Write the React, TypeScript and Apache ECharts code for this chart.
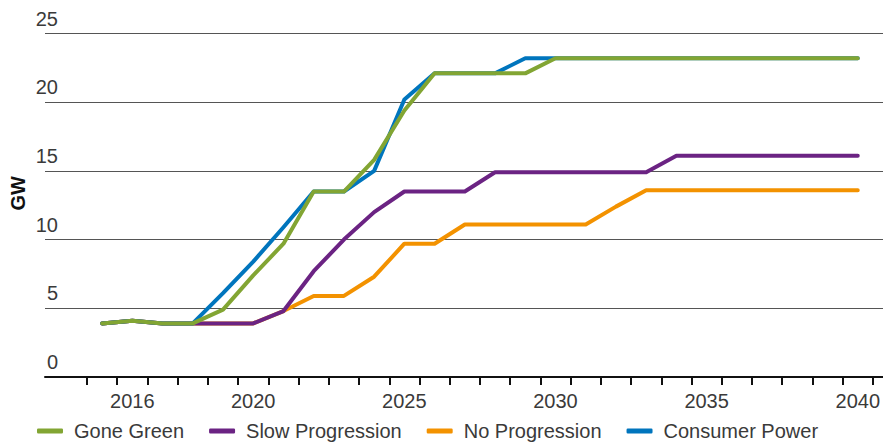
import { useEffect, useRef } from 'react';
import * as echarts from 'echarts';

const years = [
  '2015', '2016', '2017', '2018', '2019', '2020', '2021', '2022', '2023', '2024',
  '2025', '2026', '2027', '2028', '2029', '2030', '2031', '2032', '2033', '2034',
  '2035', '2036', '2037', '2038', '2039', '2040',
];
const xLabelYears = ['2016', '2020', '2025', '2030', '2035', '2040'];

const goneGreen = [
  3.9, 4.1, 3.9, 3.9, 4.9, 7.4, 9.7, 13.5, 13.5, 15.8,
  19.4, 22.1, 22.1, 22.1, 22.1, 23.2, 23.2, 23.2, 23.2, 23.2,
  23.2, 23.2, 23.2, 23.2, 23.2, 23.2,
];
const slowProgression = [
  3.9, 4.1, 3.9, 3.9, 3.9, 3.9, 4.8, 7.7, 10.0, 12.0,
  13.5, 13.5, 13.5, 14.9, 14.9, 14.9, 14.9, 14.9, 14.9, 16.1,
  16.1, 16.1, 16.1, 16.1, 16.1, 16.1,
];
const noProgression = [
  3.9, 4.1, 3.9, 3.9, 3.9, 3.9, 4.8, 5.9, 5.9, 7.3,
  9.7, 9.7, 11.1, 11.1, 11.1, 11.1, 11.1, 12.4, 13.6, 13.6,
  13.6, 13.6, 13.6, 13.6, 13.6, 13.6,
];
const consumerPower = [
  3.9, 4.1, 3.9, 3.9, 6.1, 8.4, 10.9, 13.5, 13.5, 15.0,
  20.2, 22.1, 22.1, 22.1, 23.2, 23.2, 23.2, 23.2, 23.2, 23.2,
  23.2, 23.2, 23.2, 23.2, 23.2, 23.2,
];

const seriesNames = ['Gone Green', 'Slow Progression', 'No Progression', 'Consumer Power'];
const colors: Record<string, string> = {
  'Gone Green': '#82a533',
  'Slow Progression': '#6b2383',
  'No Progression': '#f39200',
  'Consumer Power': '#0075bd',
};

const FONT = '"Liberation Sans", Arial, Helvetica, sans-serif';
const TEXT = '#3a3a3a';

export default function App() {
  const ref = useRef<HTMLDivElement>(null);
  useEffect(() => {
    const chart = echarts.init(ref.current!, null, { renderer: 'svg' });
    const mk = (name: string, data: number[]) => ({
      name,
      type: 'line',
      xAxisIndex: 1,
      yAxisIndex: 1,
      data,
      symbol: 'none',
      showSymbol: false,
      itemStyle: { color: colors[name] },
      lineStyle: { color: colors[name], width: 4, cap: 'round', join: 'round' },
    });
    chart.setOption({
      animation: false,
      textStyle: { fontFamily: FONT },
      grid: [
        { left: 35, right: 0, top: 33.5, bottom: 66 },
        { left: 87, right: 10, top: 33.5, bottom: 66 },
      ],
      xAxis: [
        {
          type: 'value',
          gridIndex: 0,
          min: 0,
          max: 1,
          axisLine: { show: true, onZero: false, lineStyle: { color: '#111', width: 2 } },
          axisTick: { show: false },
          axisLabel: { show: false },
          splitLine: { show: false },
        },
        {
          type: 'category',
          gridIndex: 1,
          data: years,
          boundaryGap: true,
          axisLine: { show: false },
          axisTick: {
            show: true,
            interval: 0,
            length: 8,
            lineStyle: { color: '#111', width: 2 },
          },
          axisLabel: {
            interval: (_i: number, v: string) => xLabelYears.includes(v),
            margin: 14,
            fontSize: 20,
            color: TEXT,
            fontFamily: FONT,
          },
          splitLine: { show: false },
        },
      ],
      yAxis: [
        {
          type: 'value',
          gridIndex: 0,
          min: 0,
          max: 25,
          interval: 5,
          name: 'GW',
          nameLocation: 'middle',
          nameRotate: 90,
          nameGap: 17,
          nameMoveOverlap: false,
          nameTextStyle: {
            fontSize: 20,
            fontWeight: 'bold',
            color: '#111',
            fontFamily: FONT,
            padding: [0, 0, 0, 24],
          },
          axisLine: { show: false },
          axisTick: { show: false },
          axisLabel: {
            inside: true,
            align: 'right',
            margin: 13,
            verticalAlign: 'bottom',
            lineHeight: 30,
            fontSize: 20,
            color: TEXT,
            fontFamily: FONT,
          },
          splitLine: { show: true, lineStyle: { color: '#555', width: 1 } },
        },
        {
          type: 'value',
          gridIndex: 1,
          min: 0,
          max: 25,
          show: false,
        },
      ],
      legend: {
        data: seriesNames,
        left: 37,
        top: 421,
        padding: 0,
        icon: 'roundRect',
        itemWidth: 26,
        itemHeight: 5,
        itemGap: 25,
        textStyle: { fontSize: 20, color: TEXT, fontFamily: FONT, padding: [0, 0, 0, 6] },
      },
      series: [
        mk('No Progression', noProgression),
        mk('Slow Progression', slowProgression),
        mk('Consumer Power', consumerPower),
        mk('Gone Green', goneGreen),
      ],
    });
    return () => chart.dispose();
  }, []);
  return (
    <div
      ref={ref}
      style={{ position: 'absolute', left: 0, top: 0, width: 883, height: 443 }}
    />
  );
}
